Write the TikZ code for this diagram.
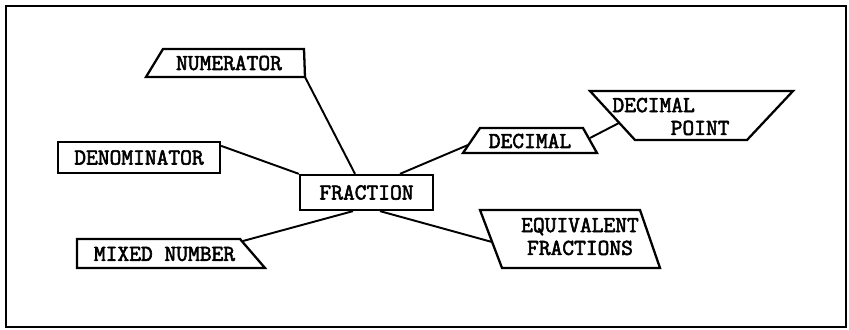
\documentclass[tikz,border=0pt]{standalone}
\usepackage{fontspec}
\usepackage{tikz}
\usetikzlibrary{calc}
\newfontfamily\typfont[FakeBold=2.5]{Latin Modern Mono}
\tikzset{
  shp/.style={line width=1.3pt, line join=miter},
  lnk/.style={line width=1.1pt},
  txt/.style={font=\typfont\fontsize{13}{13}\selectfont, inner sep=0pt, align=center},
  box/.style={txt, draw, line width=1.3pt}
}

\begin{document}
\begin{tikzpicture}[x=0.02cm, y=-0.02cm]
  \useasboundingbox (0,0) rectangle (849,330);
  % --- frame -----------------------------------------------------------
  \draw[line width=1.2pt] (6,6) rectangle (846,327);

  % --- centre and boxes ------------------------------------------------
  \node[box, minimum width=2.66cm, minimum height=0.7cm] (frac) at (366.5,192.5) {FRACTION};
  \node[box, minimum width=3.24cm, minimum height=0.62cm] (den) at (139,157.5) {DENOMINATOR};

  % --- slanted shapes --------------------------------------------------
  \node[txt] (num) at (229,63) {NUMERATOR};
  \draw[shp] (146,77) -- (163,49) -- (304,49) -- (305,77) -- cycle;
  \coordinate (num-se) at (305,77);

  \node[txt] (mix) at (164.5,254) {MIXED NUMBER};
  \draw[shp] (77,239) -- (240,239) -- (265,268) -- (77,268) -- cycle;
  \coordinate (mix-e) at (243,241);

  \node[txt] (dec) at (530,141) {DECIMAL};
  \draw[shp] (480,128) -- (583,128) -- (597,153) -- (463,153) -- cycle;
  \coordinate (dec-w) at (468,145);
  \coordinate (dec-e) at (590,138);

  \node[txt, align=left] (dpt) at (671,116.5) {DECIMAL\\\hspace*{2.55em}POINT};
  \draw[shp] (590,91) -- (793,91) -- (747,140) -- (635,140) -- cycle;
  \coordinate (dpt-w) at (619,123);

  \node[txt] (eqv) at (580,236.5) {EQUIVALENT\\FRACTIONS};
  \draw[shp] (480,210) -- (640,210) -- (660,268) -- (502,268) -- cycle;
  \coordinate (eqv-w) at (492,242);

  % --- connectors ------------------------------------------------------
  \draw[lnk] (num-se) -- ($(frac.north)+(-11.5,0)$);
  \draw[lnk] ($(den.north east)+(0,5)$) -- (frac.north west);
  \draw[lnk] ($(frac.north)+(33.5,0)$) -- (dec-w);
  \draw[lnk] (dec-e) -- (dpt-w);
  \draw[lnk] ($(frac.south)+(-13.5,0)$) -- (mix-e);
  \draw[lnk] ($(frac.south)+(13.5,0)$) -- (eqv-w);
\end{tikzpicture}
\end{document}
